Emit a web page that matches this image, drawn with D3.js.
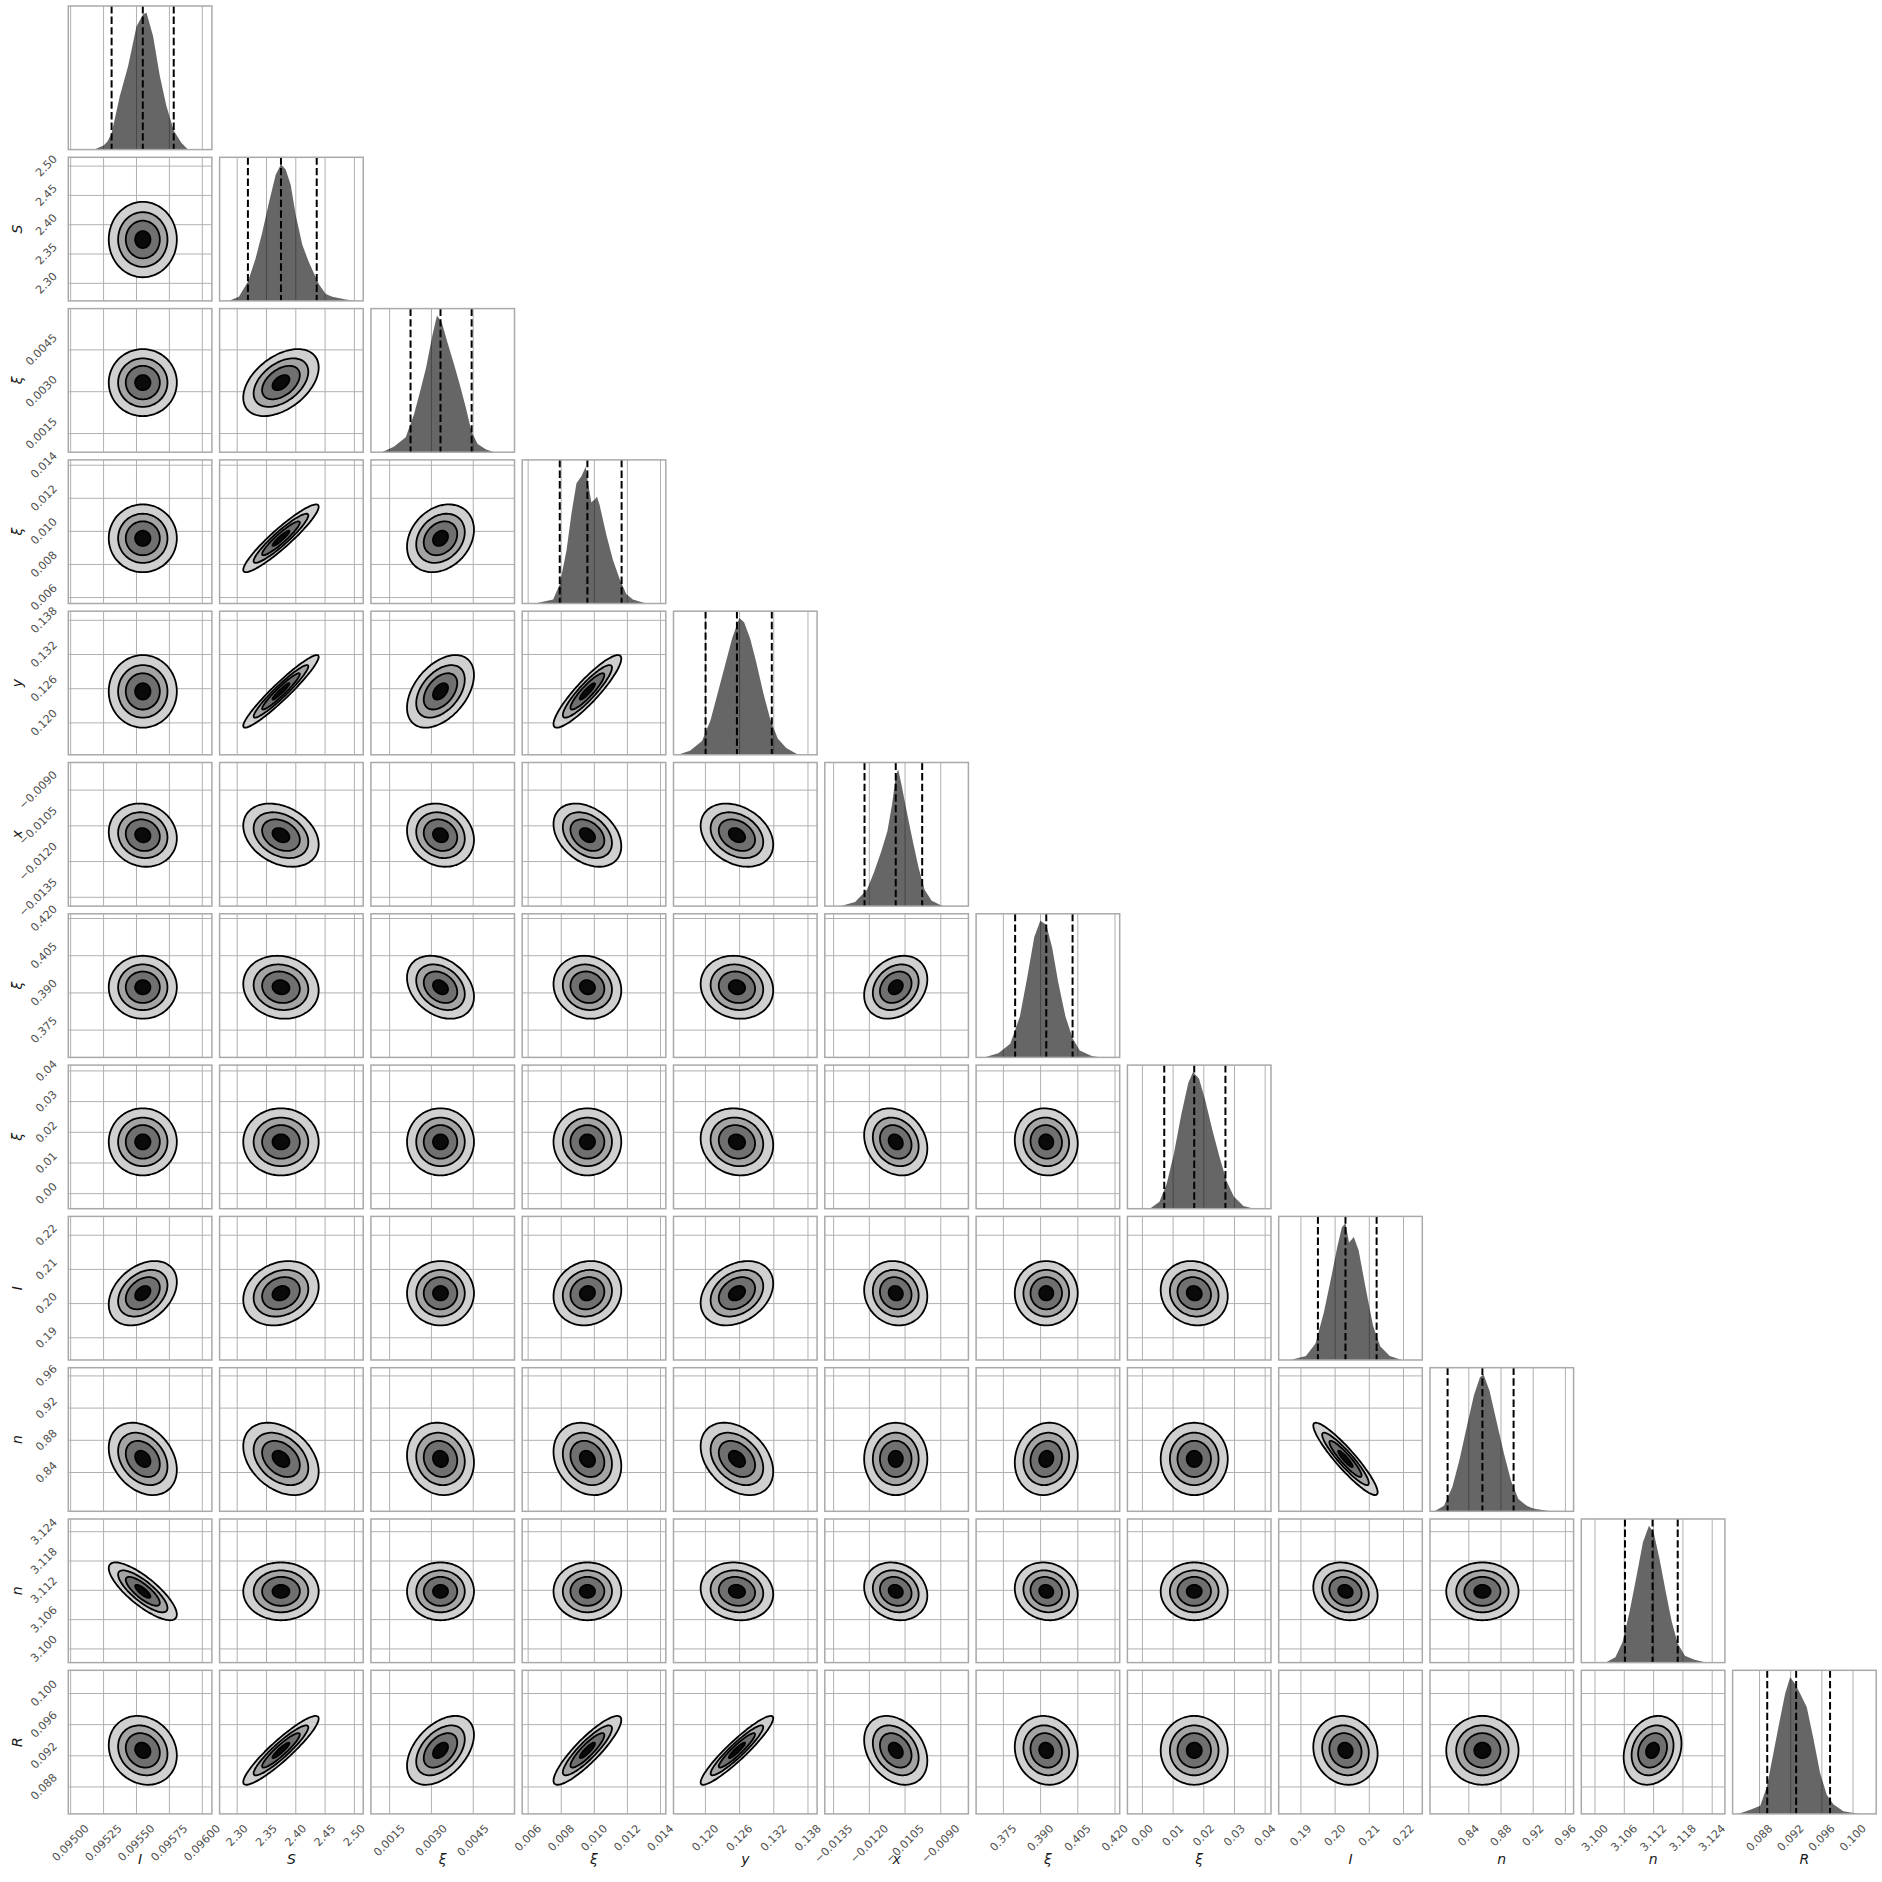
<!DOCTYPE html>
<html><head><meta charset="utf-8">
<script src="https://cdn.jsdelivr.net/npm/d3@7"></script>
<style>body{margin:0;background:#fff}svg{display:block}</style>
</head><body>
<svg id="chart" width="1882" height="1882"></svg>
<script>
// ---------- data ----------
const names = ["I","S","ξ","ξ","y","x","ξ","ξ","I","n","n","R"];
const rangeLo = [0.094982, 2.270, 0.00083, 0.00564, 0.1144, -0.01387, 0.3640, -0.0049, 0.1835, 0.7918, 3.0972, 0.08454];
const rangeHi = [0.096073, 2.515, 0.00598, 0.01432, 0.1396, -0.00784, 0.4219, 0.0419, 0.2255, 0.9702, 3.1266, 0.10298];

const ticks0 = ["0.09500","0.09525","0.09550","0.09575","0.09600"];
const ticks1 = ["2.30","2.35","2.40","2.45","2.50"];
const ticks2 = ["0.0015","0.0030","0.0045"];
const ticks3 = ["0.006","0.008","0.010","0.012","0.014"];
const ticks4 = ["0.120","0.126","0.132","0.138"];
const ticks5 = ["\u22120.0135","\u22120.0120","\u22120.0105","\u22120.0090"];
const ticks6 = ["0.375","0.390","0.405","0.420"];
const ticks7 = ["0.00","0.01","0.02","0.03","0.04"];
const ticks8 = ["0.19","0.20","0.21","0.22"];
const ticks9 = ["0.84","0.88","0.92","0.96"];
const ticks10 = ["3.100","3.106","3.112","3.118","3.124"];
const ticks11 = ["0.088","0.092","0.096","0.100"];
const tickSets = [ticks0,ticks1,ticks2,ticks3,ticks4,ticks5,ticks6,ticks7,ticks8,ticks9,ticks10,ticks11];

const qLow  = [0.095311, 2.3183, 0.002252, 0.007911, 0.12003, -0.012202, 0.37974, 0.00711, 0.19497, 0.81366, 3.10614, 0.088986];
const qMed  = [0.095548, 2.3747, 0.003326, 0.009581, 0.12553, -0.010891, 0.39229, 0.01688, 0.20303, 0.85690, 3.11179, 0.092700];
const qHigh = [0.095783, 2.4357, 0.004443, 0.011649, 0.13165, -0.009781, 0.40290, 0.02705, 0.21214, 0.89565, 3.11694, 0.097055];

// histogram outlines: [value, relative height]
const hist0 = [[0.09518,0],[0.09525,3],[0.09528,6],[0.095311,12],[0.095373,39],[0.095436,61],[0.0955,90],[0.09555,99],[0.095576,100],[0.095626,83],[0.095677,54],[0.095727,32],[0.095783,14],[0.095841,5],[0.095891,0]];
const hist1 = [[2.285,0],[2.2915,1],[2.3029,3],[2.3183,14],[2.3314,31],[2.3427,50],[2.3542,72],[2.3656,92],[2.3747,100],[2.3827,96],[2.3913,85],[2.3998,63],[2.4111,41],[2.4226,28],[2.4311,20],[2.4397,12],[2.4511,5],[2.4624,3],[2.4853,1],[2.5024,0]];
const hist2 = [[0.00122,0],[0.00165,4],[0.00208,11],[0.00238,28],[0.0026,45],[0.00281,62],[0.00303,85],[0.0032,100],[0.00337,95],[0.00358,80],[0.0038,65],[0.00401,50],[0.00423,33],[0.00444,15],[0.00466,6],[0.00496,2],[0.00526,0]];
const hist3 = [[0.0064,0],[0.00751,3],[0.00791,14],[0.00832,39],[0.00862,66],[0.00892,88],[0.00922,93],[0.00948,100],[0.00962,88],[0.00982,74],[0.01002,76],[0.01016,78],[0.01032,72],[0.01073,50],[0.01112,32],[0.01153,18],[0.01193,7],[0.01233,3],[0.01314,0]];
const hist4 = [[0.11518,0],[0.11729,3],[0.1194,10],[0.12088,25],[0.12215,45],[0.12341,65],[0.12468,85],[0.12595,100],[0.12679,97],[0.12785,85],[0.1289,68],[0.13017,45],[0.13144,25],[0.1327,12],[0.13418,5],[0.13629,0]];
const hist5 = [[-0.01321,0],[-0.0126,3],[-0.0121,12],[-0.0118,25],[-0.0115,40],[-0.01124,55],[-0.01104,75],[-0.01089,95],[-0.01079,100],[-0.01064,88],[-0.01044,70],[-0.01018,48],[-0.00993,28],[-0.00968,12],[-0.00938,4],[-0.00892,0]];
const hist6 = [[0.36716,0],[0.37295,3],[0.37777,10],[0.38167,30],[0.38457,58],[0.38746,88],[0.38988,100],[0.39229,97],[0.3947,80],[0.39711,55],[0.40001,30],[0.4029,14],[0.4058,5],[0.41063,1],[0.41449,0]];
const hist7 = [[0.0024,0],[0.00554,5],[0.00789,18],[0.01023,40],[0.01258,68],[0.01493,92],[0.01649,100],[0.01845,95],[0.0204,80],[0.02275,58],[0.0251,38],[0.02744,20],[0.02979,9],[0.03292,2],[0.03644,0]];
const hist8 = [[0.1869,0],[0.19146,3],[0.19427,12],[0.19672,35],[0.19882,60],[0.20058,82],[0.20198,97],[0.20303,100],[0.20408,86],[0.20548,90],[0.20689,80],[0.20899,52],[0.21109,25],[0.2132,10],[0.216,3],[0.2195,0]];
const hist9 = [[0.79727,0],[0.80919,4],[0.81963,18],[0.82857,38],[0.83752,62],[0.84646,85],[0.85391,98],[0.85838,100],[0.86584,88],[0.87478,65],[0.88373,42],[0.89267,22],[0.90161,9],[0.91205,4],[0.92,2],[0.93143,1],[0.94186,0]];
const hist10 = [[3.10222,0],[3.10418,4],[3.10565,15],[3.10712,38],[3.1086,65],[3.10982,88],[3.11105,100],[3.11203,95],[3.11326,75],[3.11448,52],[3.11571,30],[3.11694,14],[3.11841,5],[3.12037,2],[3.12282,0]];
const hist11 = [[0.0851,0],[0.0858,1],[0.08681,3],[0.08809,6],[0.08895,20],[0.0898,45],[0.09065,70],[0.09129,88],[0.09193,100],[0.09257,95],[0.09321,88],[0.09407,78],[0.09492,55],[0.09577,30],[0.09663,14],[0.09748,7],[0.09876,2],[0.1009,0]];
const hists = [hist0,hist1,hist2,hist3,hist4,hist5,hist6,hist7,hist8,hist9,hist10,hist11];

// correlations (row r, column c < r)
const corr1  = [0.0];
const corr2  = [0.0, 0.45];
const corr3  = [0.0, 0.93, 0.25];
const corr4  = [0.0, 0.95, 0.45, 0.9];
const corr5  = [-0.1, -0.3, -0.15, -0.35, -0.3];
const corr6  = [0.0, -0.1, -0.3, -0.1, -0.1, 0.25];
const corr7  = [0.0, 0.0, 0.0, 0.0, -0.1, -0.2, -0.05];
const corr8  = [0.35, 0.2, 0.0, 0.1, 0.3, -0.1, 0.0, -0.1];
const corr9  = [-0.3, -0.35, -0.1, -0.2, -0.35, 0.0, 0.1, 0.0, -0.92];
const corr10 = [-0.8, 0.0, 0.0, 0.0, -0.1, -0.15, -0.1, 0.0, -0.15, 0.0];
const corr11 = [-0.15, 0.92, 0.45, 0.88, 0.93, -0.3, -0.1, 0.0, -0.1, 0.0, 0.2];
const corrRows = [[], corr1, corr2, corr3, corr4, corr5, corr6, corr7, corr8, corr9, corr10, corr11];

const contourLevels = [2.0, 1.45, 1.0, 0.45];
const contourFills = ["#d0d0d0", "#a4a4a4", "#707070", "#0a0a0a"];

(function draw() {
  const N = names.length;
  const padL = 68.3, padT = 6, stride = 151.3, size = 143.6;
  const tickFont = 11.2, labelFont = 14;
  const svg = d3.select("#chart");
  const defs = svg.append("defs");
  const num = s => parseFloat(s.replace("\u2212", "-"));

  const xScaleFor = c => { const x0 = padL + c*stride; return d3.scaleLinear([rangeLo[c], rangeHi[c]], [x0, x0+size]); };
  const yScaleFor = r => { const y0 = padT + r*stride; return d3.scaleLinear([rangeLo[r], rangeHi[r]], [y0+size, y0]); };

  function addTickLabel(g, cx, cy, str, mode) {
    const t = g.append("text").text(str)
      .attr("font-family","DejaVu Sans").attr("font-size",tickFont).attr("fill","#505050")
      .attr("text-anchor","middle").attr("dominant-baseline","central");
    const w = t.node().getComputedTextLength();
    const half = (w + 0.73*tickFont) * Math.SQRT1_2 / 2;
    if (mode === "x") t.attr("transform", `translate(${cx},${cy+half}) rotate(-45)`);
    else t.attr("transform", `translate(${cx-half},${cy}) rotate(-45)`);
  }

  function ellipsePts(mx, my, sx, sy, rho, k) {
    const pts = [];
    const s = Math.sqrt(1 - rho*rho);
    for (let i = 0; i < 96; i++) {
      const t = i/96*2*Math.PI, u = k*Math.cos(t), v = k*Math.sin(t);
      pts.push([mx + sx*u, my + sy*(rho*u + s*v)]);
    }
    return pts;
  }
  const sigma = qLow.map((lo,i) => (qHigh[i]-lo)/3.65);

  for (let r = 0; r < N; r++) {
    for (let c = 0; c <= r; c++) {
      const x0 = padL + c*stride, y0 = padT + r*stride;
      const xs = xScaleFor(c);
      const g = svg.append("g");
      const cid = `clip-${r}-${c}`;
      defs.append("clipPath").attr("id", cid).append("rect")
        .attr("x", x0).attr("y", y0).attr("width", size).attr("height", size);
      const inner = g.append("g").attr("clip-path", `url(#${cid})`);
      tickSets[c].forEach(s => {
        const xv = xs(num(s));
        inner.append("line").attr("x1",xv).attr("x2",xv).attr("y1",y0).attr("y2",y0+size)
          .attr("stroke","#b0b0b0").attr("stroke-width",1);
      });
      if (r === c) {
        const ys = d3.scaleLinear([0, 105], [y0+size, y0]);
        const area = d3.area().x(d => xs(d[0])).y0(y0+size).y1(d => ys(d[1]));
        inner.append("path").datum(hists[c]).attr("d", area)
          .attr("fill","#000").attr("fill-opacity",0.6);
        [qLow[c], qMed[c], qHigh[c]].forEach(q => {
          const xv = xs(q);
          inner.append("line").attr("x1",xv).attr("x2",xv).attr("y1",y0).attr("y2",y0+size)
            .attr("stroke","#000").attr("stroke-width",2).attr("stroke-dasharray","7.4,3.2");
        });
      } else {
        const ys = yScaleFor(r);
        tickSets[r].forEach(s => {
          const yv = ys(num(s));
          inner.append("line").attr("x1",x0).attr("x2",x0+size).attr("y1",yv).attr("y2",yv)
            .attr("stroke","#b0b0b0").attr("stroke-width",1);
        });
        const rho = corrRows[r][c];
        const line = d3.line().x(d => xs(d[0])).y(d => ys(d[1])).curve(d3.curveCardinalClosed);
        contourLevels.forEach((k, i) => {
          const pts = ellipsePts(qMed[c], qMed[r], sigma[c], sigma[r], rho, k);
          inner.append("path").attr("d", line(pts))
            .attr("fill", contourFills[i]).attr("stroke","#000").attr("stroke-width",1.8);
        });
      }
      g.append("rect").attr("x",x0).attr("y",y0).attr("width",size).attr("height",size)
        .attr("fill","none").attr("stroke","#a9a9a9").attr("stroke-width",1.5);

      if (r === N-1) {
        tickSets[c].forEach(s => addTickLabel(g, xs(num(s)), y0+size+10, s, "x"));
        g.append("text").text(names[c]).attr("x", x0+size/2).attr("y", y0+size+50)
          .attr("text-anchor","middle").attr("font-family","DejaVu Sans").attr("font-style","italic")
          .attr("font-size",labelFont).attr("fill","#1a1a1a");
      }
      if (c === 0 && r > 0) {
        const ys = yScaleFor(r);
        tickSets[r].forEach(s => addTickLabel(g, x0-10, ys(num(s)), s, "y"));
        g.append("text").text(names[r])
          .attr("transform", `translate(22,${y0+size/2}) rotate(-90)`)
          .attr("text-anchor","middle").attr("font-family","DejaVu Sans").attr("font-style","italic")
          .attr("font-size",labelFont).attr("fill","#1a1a1a");
      }
    }
  }
})();
</script>
</body></html>
